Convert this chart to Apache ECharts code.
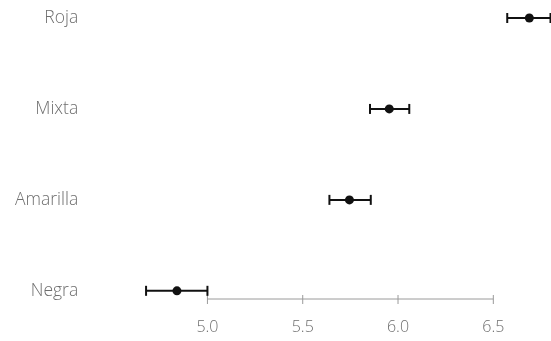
<!DOCTYPE html>
<html>
<head>
<meta charset="utf-8">
<script src="https://cdn.jsdelivr.net/npm/echarts@6/dist/echarts.min.js"></script>
<style>
html,body{margin:0;padding:0;background:#fff;}
#chart{width:551px;height:341px;}
</style>
</head>
<body>
<div id="chart"></div>
<script>
const categories = ['Negra', 'Amarilla', 'Mixta', 'Roja'];
const means = [4.84, 5.745, 5.954, 6.689];
const lows = [4.678, 5.64, 5.853, 6.573];
const highs = [5.0, 5.857, 6.059, 6.80];
const xTicks = [5.0, 5.5, 6.0, 6.5];

const X_MIN = 4.6, X_MAX = 6.8, Y_MIN = -0.09, Y_MAX = 3;

const barData = categories.map((c, i) => [lows[i], highs[i], means[i], i]);
const tickData = xTicks.map(t => [t, Y_MIN]);

const chart = echarts.init(document.getElementById('chart'), null, {renderer: 'canvas'});
chart.setOption({
  animation: false,
  backgroundColor: '#ffffff',
  grid: {left: 131.2, right: 0.5, top: 18, bottom: 42, containLabel: false},
  xAxis: {
    type: 'value', min: X_MIN, max: X_MAX,
    axisLine: {show: false}, axisTick: {show: false}, splitLine: {show: false},
    axisLabel: {
      customValues: xTicks, margin: 20,
      formatter: v => Number(v).toFixed(1),
      color: '#6e6e6e', fontFamily: 'Open Sans', fontWeight: 300, fontSize: 16
    }
  },
  yAxis: {
    type: 'value', min: Y_MIN, max: Y_MAX,
    axisLine: {show: false}, axisTick: {show: false}, splitLine: {show: false},
    axisLabel: {
      customValues: [0, 1, 2, 3], margin: 53,
      formatter: v => categories[Math.round(v)],
      color: '#6e6e6e', fontFamily: 'Open Sans', fontWeight: 300, fontSize: 17.5
    }
  },
  series: [
    {
      type: 'custom', clip: false, silent: true,
      data: [[xTicks[0], xTicks[xTicks.length - 1], Y_MIN]],
      renderItem: (params, api) => {
        const a = api.coord([api.value(0), api.value(2)]);
        const b = api.coord([api.value(1), api.value(2)]);
        return {type: 'line', shape: {x1: a[0], y1: a[1], x2: b[0], y2: b[1]},
          style: {stroke: '#9a9a9a', lineWidth: 1}};
      }
    },
    {
      type: 'custom', clip: false, silent: true,
      data: tickData,
      renderItem: (params, api) => {
        const p = api.coord([api.value(0), api.value(1)]);
        return {type: 'line', shape: {x1: p[0], y1: p[1] - 4, x2: p[0], y2: p[1] + 5},
          style: {stroke: '#9a9a9a', lineWidth: 1}};
      }
    },
    {
      type: 'custom', clip: false, silent: true,
      data: barData,
      renderItem: (params, api) => {
        const y = api.value(3);
        const lo = api.coord([api.value(0), y]);
        const hi = api.coord([api.value(1), y]);
        const m = api.coord([api.value(2), y]);
        const st = {stroke: '#111', lineWidth: 2};
        return {type: 'group', children: [
          {type: 'line', shape: {x1: lo[0], y1: lo[1], x2: hi[0], y2: hi[1]}, style: st},
          {type: 'line', shape: {x1: lo[0], y1: lo[1] - 5, x2: lo[0], y2: lo[1] + 5}, style: st},
          {type: 'line', shape: {x1: hi[0], y1: hi[1] - 5, x2: hi[0], y2: hi[1] + 5}, style: st},
          {type: 'circle', shape: {cx: m[0], cy: m[1], r: 4.5}, style: {fill: '#111'}}
        ]};
      }
    }
  ]
});
</script>
</body>
</html>
